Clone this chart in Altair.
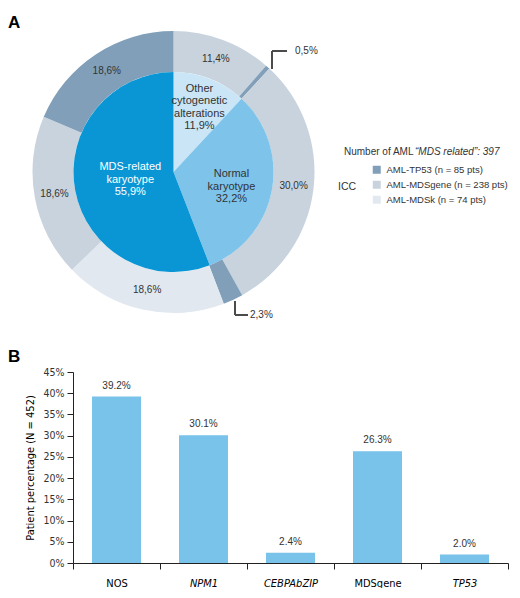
import altair as alt
import pandas as pd

# ---------------- data ----------------
inner_categories = ["Other cytogenetic alterations", "Normal karyotype", "MDS-related karyotype"]
inner_values = [11.9, 32.2, 55.9]
inner_labels = ["Other\ncytogenetic\nalterations\n11,9%", "Normal\nkaryotype\n32,2%", "MDS-related\nkaryotype\n55,9%"]

ring_groups = ["AML-MDSgene", "AML-TP53", "AML-MDSgene", "AML-TP53", "AML-MDSk", "AML-MDSgene", "AML-TP53"]
ring_values = [11.4, 0.5, 30.0, 2.3, 18.6, 18.6, 18.6]

legend_groups = ["AML-TP53", "AML-MDSgene", "AML-MDSk"]
legend_labels = ["AML-TP53 (n = 85 pts)", "AML-MDSgene (n = 238 pts)", "AML-MDSk (n = 74 pts)"]

bar_categories = ["NOS", "NPM1", "CEBPAbZIP", "MDSgene", "TP53"]
bar_values = [39.2, 30.1, 2.4, 26.3, 2.0]
y_ticks = [0, 5, 10, 15, 20, 25, 30, 35, 40, 45]

# ---------------- styles ----------------
SANS = "Liberation Sans, Arial, Helvetica, sans-serif"
NARROW = "DejaVu Sans Condensed, Liberation Sans Narrow, sans-serif"
TXT = "#333333"
inner_colors = ["#c9e5f6", "#7dc3ea", "#0a96d5"]
ring_colors = ["#819fb9", "#c8d3de", "#e1e8f0"]
BAR = "#79c2e9"

OX = 73  # page x of the panels' origin
OY = 8
CX, CY = 173.5 - OX, 172 - OY
R_IN, R_OUT = 100, 141

inner_df = pd.DataFrame({"cat": inner_categories, "v": inner_values,
                         "label": inner_labels, "idx": range(len(inner_values))})
ring_df = pd.DataFrame({"grp": [legend_labels[legend_groups.index(g)] for g in ring_groups],
                        "v": ring_values, "idx": range(len(ring_values))})

theta_scale = alt.Scale(domain=[0, 100])


def stacked(df):
    return (alt.Chart(df)
            .transform_window(cum="sum(v)", sort=[{"field": "idx"}], frame=[None, 0])
            .transform_calculate(start="datum.cum - datum.v",
                                 mid="datum.cum - datum.v / 2"))


inner_base = stacked(inner_df)
ring_base = stacked(ring_df)

inner_arc = inner_base.mark_arc(outerRadius=R_IN).encode(
    x=alt.value(CX), y=alt.value(CY),
    theta=alt.Theta("start:Q", scale=theta_scale),
    theta2="cum:Q",
    color=alt.Color("cat:N", scale=alt.Scale(domain=inner_categories, range=inner_colors), legend=None),
)

ring_arc = ring_base.mark_arc(innerRadius=R_IN, outerRadius=R_OUT).encode(
    x=alt.value(CX), y=alt.value(CY),
    theta=alt.Theta("start:Q", scale=theta_scale),
    theta2="cum:Q",
    color=alt.Color("grp:N", scale=alt.Scale(domain=legend_labels, range=ring_colors),
                    legend=alt.Legend(title=None, orient="none", legendX=372 - OX, legendY=157,
                                      symbolType="square", symbolSize=64, symbolStrokeWidth=0,
                                      labelFont=SANS, labelFontSize=9.5, labelColor=TXT,
                                      rowPadding=4, labelOffset=5, padding=0)),
)

ring_text = ring_base.transform_filter("datum.v >= 5").transform_calculate(
    lab="replace(format(datum.v, '.1f'), '.', ',') + '%'"
).mark_text(radius=121, font=SANS, fontSize=10, color=TXT).encode(
    x=alt.value(CX), y=alt.value(CY),
    theta=alt.Theta("mid:Q", scale=theta_scale),
    text="lab:N",
)


def inner_label(cat, radius, color, dy):
    return inner_base.transform_filter(alt.datum.cat == cat).mark_text(
        radius=radius, font=SANS, fontSize=11, lineBreak="\n", lineHeight=12.5,
        color=color, align="center", baseline="middle", dy=dy
    ).encode(
        x=alt.value(CX), y=alt.value(CY),
        theta=alt.Theta("mid:Q", scale=theta_scale),
        text="label:N",
    )


lab_other = inner_label(inner_categories[0], 71, TXT, -17)
lab_normal = inner_label(inner_categories[1], 59, TXT, -9)
lab_mds = inner_label(inner_categories[2], 44, "white", -13)

small = ring_base.transform_filter("datum.v < 5").transform_calculate(
    lab="replace(format(datum.v, '.1f'), '.', ',') + '%'")

lead_col = "#4a4a4a"


def rule(**enc):
    return alt.Chart(ring_df).mark_rule(color=lead_col, strokeWidth=1).encode(
        **{k: alt.value(v) for k, v in enc.items()})


lead1a = rule(x=272 - OX, y=69 - OY, y2=51 - OY)
lead1b = rule(x=272 - OX, x2=287 - OX, y=51 - OY)
lead2a = rule(x=235 - OX, y=301 - OY, y2=315 - OY)
lead2b = rule(x=235 - OX, x2=248 - OX, y=315 - OY)

small_txt1 = small.transform_filter("datum.idx == 1").mark_text(
    font=SANS, fontSize=10, color=TXT, align="left", baseline="middle").encode(
    x=alt.value(295 - OX), y=alt.value(51 - OY), text="lab:N")
small_txt2 = small.transform_filter("datum.idx == 3").mark_text(
    font=SANS, fontSize=10, color=TXT, align="left", baseline="middle").encode(
    x=alt.value(250 - OX), y=alt.value(315 - OY), text="lab:N")


def txt(text, x, y, **kw):
    return alt.Chart(pd.DataFrame({"t": [text]})).mark_text(**kw).encode(
        x=alt.value(x), y=alt.value(y), text="t:N")


# the panel letters sit at the far left and fix the shared left margin
letter_a = txt("A", -(OX - 8), 28 - OY, font=SANS, fontSize=17, fontWeight="bold", color="black",
               align="left", baseline="alphabetic")
letter_b = txt("B", -(OX - 8), 362 - OY, font=SANS, fontSize=17, fontWeight="bold", color="black",
               align="left", baseline="alphabetic")
leg_t1 = txt("Number of AML ", 344 - OX, 152 - OY, font=SANS, fontSize=10, color=TXT,
             align="left", baseline="middle")
leg_t2 = txt("\u201cMDS related\u201d: 397", 415 - OX, 152 - OY, font=SANS, fontSize=10, color=TXT,
             fontStyle="italic", align="left", baseline="middle")
icc = txt("ICC", 338 - OX, 187 - OY, font=SANS, fontSize=10.5, color=TXT, align="left", baseline="middle")

panel_a = alt.layer(
    ring_arc, inner_arc, ring_text, lab_other, lab_normal, lab_mds,
    lead1a, lead1b, lead2a, lead2b, small_txt1, small_txt2,
    letter_a, letter_b, leg_t1, leg_t2, icc,
).resolve_scale(color="independent").properties(width=504 - (OX - 8), height=359)

# ---------------- panel B ----------------
bar_df = pd.DataFrame({"cat": bar_categories, "v": bar_values})

italic_expr = "datum.value == 'NPM1' || datum.value == 'TP53' || datum.value == 'CEBPAbZIP' ? 'italic' : 'normal'"

bar_base = alt.Chart(bar_df).transform_calculate(
    lab="format(datum.v, '.1f') + '%'"
).encode(
    x=alt.X("cat:N", sort=bar_categories, title=None,
            scale=alt.Scale(paddingInner=0, paddingOuter=0),
            axis=alt.Axis(tickBand="extent", labelAngle=0, labelFont=NARROW, labelFontSize=11,
                          labelColor="black", labelPadding=8, tickSize=6, tickColor="#222",
                          domainColor="#222", labelFontStyle=alt.ExprRef(italic_expr))),
    y=alt.Y("v:Q", title="Patient percentage (N = 452)",
            scale=alt.Scale(domain=[0, 45], nice=False),
            axis=alt.Axis(values=y_ticks, labelExpr="datum.value + '%'", labelFont=NARROW,
                          labelFontSize=10.5, labelColor=TXT, tickSize=6, labelPadding=3,
                          tickColor="#222", domainColor="#222", titleFont=NARROW, titleFontSize=11,
                          titleFontWeight="normal", titleColor="black", titlePadding=8,
                          labelOverlap=False, grid=False)),
)

bars = bar_base.mark_bar(color=BAR, size=49)
bar_text = bar_base.mark_text(font=SANS, fontSize=10, color=TXT, dy=-8,
                              baseline="alphabetic").encode(text="lab:N")

panel_b = alt.layer(bars, bar_text).properties(width=435, height=191)

chart = alt.vconcat(panel_a, panel_b, spacing=0).configure(
    background="white", padding=0).configure_view(strokeWidth=0, stroke="transparent")

chart.save("out.html", embed_options={"renderer": "svg", "actions": False})
